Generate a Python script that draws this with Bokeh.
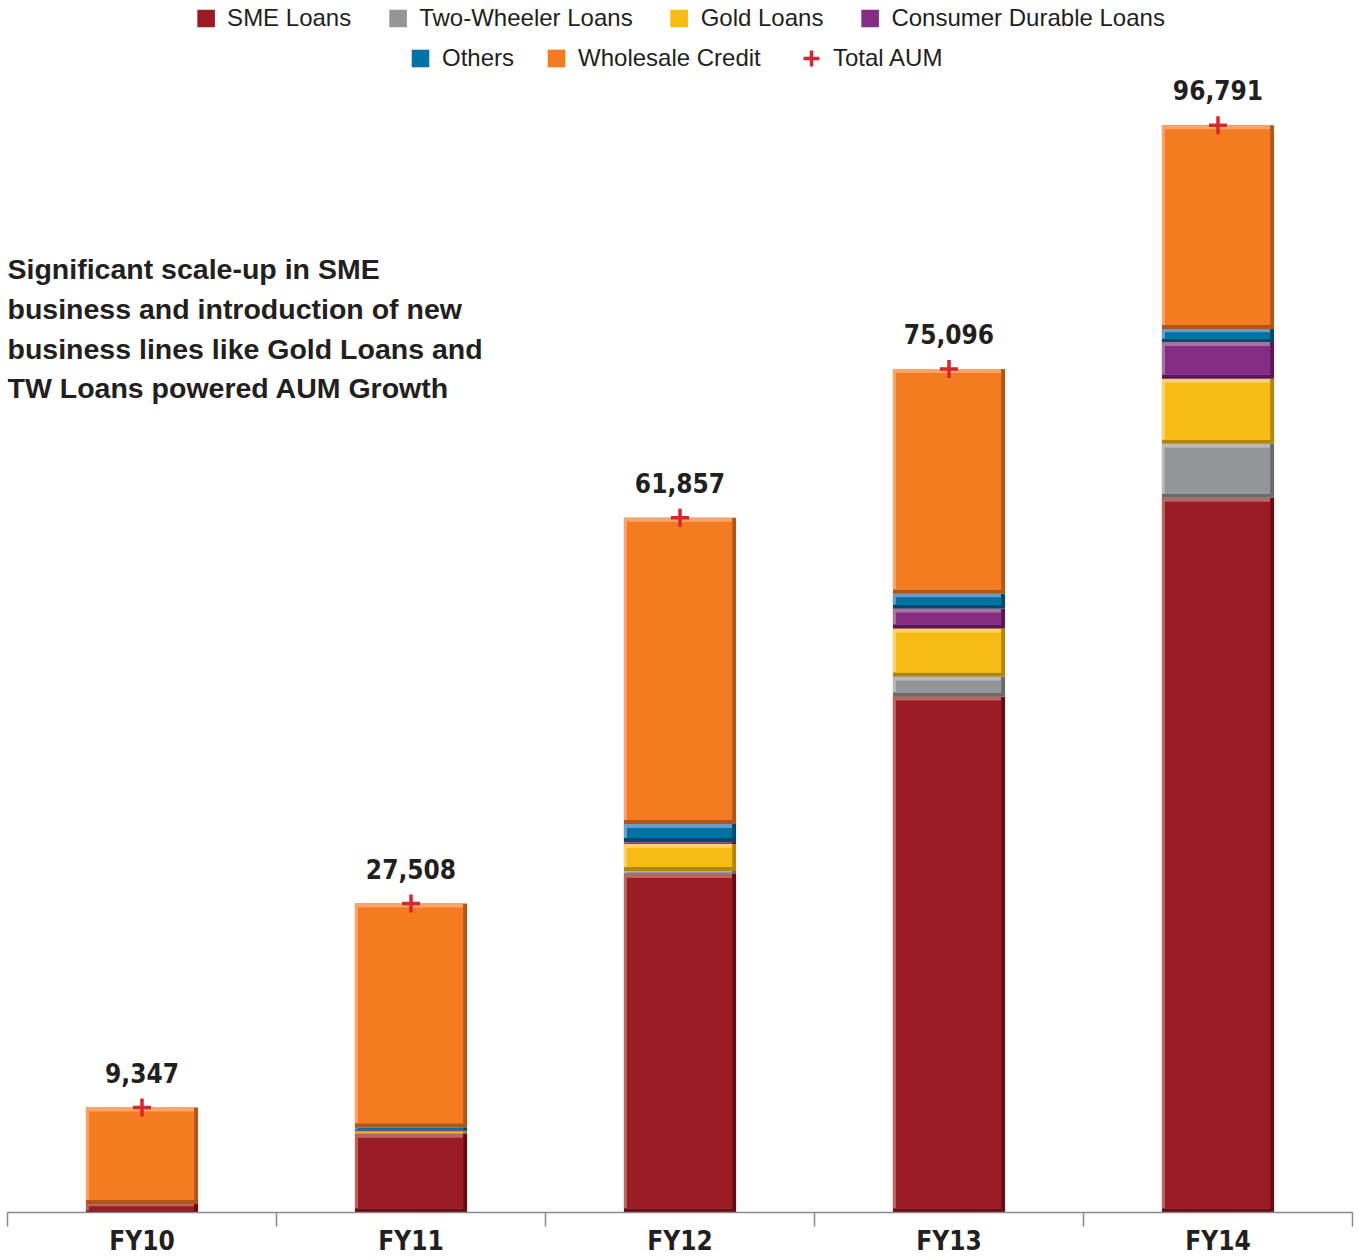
import numpy as np
from bokeh.plotting import figure
from bokeh.models import (ColumnDataSource, Range1d, FixedTicker, Legend, LegendItem, Label)
from bokeh.core.properties import value
from bokeh.embed import file_html
from bokeh.resources import INLINE

# ---- data (Rs. million) ----
categories = ["FY10", "FY11", "FY12", "FY13", "FY14"]
sme_loans = [750, 7000, 30130, 45950, 63640]
two_wheeler = [0, 80, 270, 1780, 4800]
gold_loans = [0, 150, 2400, 4270, 5780]
consumer_durable = [0, 100, 180, 1780, 3290]
others = [0, 250, 1600, 1330, 1155]
wholesale_credit = [8597, 19928, 27277, 19986, 18126]
total_aum = [9347, 27508, 61857, 75096, 96791]

series_names = ["SME Loans", "Two-Wheeler Loans", "Gold Loans",
                "Consumer Durable Loans", "Others", "Wholesale Credit"]
series_values = [sme_loans, two_wheeler, gold_loans, consumer_durable, others, wholesale_credit]
fills = ["#9b1b24", "#939598", "#f7bb16", "#852d84", "#0072a3", "#f47b20"]
lights = ["#b8675f", "#b8b9bb", "#fdd16c", "#a9739f", "#6c9bc6", "#f9a56a"]
darks = ["#680b12", "#6a6b6e", "#b3860c", "#581857", "#004a6c", "#b0561b"]

W, H = 1359, 1258
BORDER_L, BORDER_R, BORDER_B = 7, 7, 44
Y_END = 107905
n = len(categories)
xs = np.arange(n) + 0.5
bar_w = 0.417

p = figure(width=W, height=H, output_backend="svg", toolbar_location=None,
           x_range=Range1d(0, n), y_range=Range1d(0, Y_END))
p.min_border_left = BORDER_L
p.min_border_right = BORDER_R
p.min_border_top = 0
p.min_border_bottom = BORDER_B
p.outline_line_color = None
p.grid.visible = False
p.yaxis.visible = False

# bevel sizes (screen px -> data units)
frame_w = W - BORDER_L - BORDER_R
frame_h = H - BORDER_B
dy = 4 * Y_END / frame_h
dxl = 3 * n / frame_w
dxr = 4 * n / frame_w

vals = np.array(series_values, dtype=float)
tops = np.cumsum(vals, axis=0)
bottoms = tops - vals

main_renderers = []
for i in range(len(series_names)):
    b, t = bottoms[i], tops[i]
    h = t - b
    d = np.minimum(dy, h * 0.25)
    src = ColumnDataSource(dict(
        x=xs, b=b, t=t,
        lb=b + d, lx=xs - dxr / 2, lw=np.full(n, bar_w - dxr),
        mb=b + d, mt=np.maximum(t - d, b + d),
        mx=xs + (dxl - dxr) / 2, mw=np.full(n, bar_w - dxl - dxr),
    ))
    # dark base (bottom / right bevel)
    p.vbar(x="x", width=bar_w, bottom="b", top="t", source=src,
           fill_color=darks[i], line_color=None)
    # light overlay (top / left bevel)
    p.vbar(x="lx", width="lw", bottom="lb", top="t", source=src,
           fill_color=lights[i], line_color=None)
    # main face
    r = p.vbar(x="mx", width="mw", bottom="mb", top="mt", source=src,
               fill_color=fills[i], line_color=None)
    main_renderers.append(r)

tot_src = ColumnDataSource(dict(x=xs, total=total_aum,
                                label=[f"{v:,}" for v in total_aum]))
cross = p.scatter(x="x", y="total", source=tot_src, marker="cross", size=18,
                  line_width=3.5, line_color="#d7262d")

p.text(x="x", y="total", text="label", source=tot_src,
       text_font=value("DejaVu Sans Condensed"), text_font_style="bold",
       text_font_size="26px", text_color="#231f20", text_align="center",
       text_baseline="alphabetic", y_offset=-35)

# x axis: labels at centres, tick marks at category boundaries
ax = p.xaxis[0]
ax.ticker = FixedTicker(ticks=list(xs), minor_ticks=list(range(n + 1)))
ax.major_label_overrides = {float(x): c for x, c in zip(xs, categories)}
ax.major_tick_out = 0
ax.major_tick_in = 0
ax.minor_tick_out = 14
ax.minor_tick_in = 0
ax.minor_tick_line_color = "#8a8a8a"
ax.minor_tick_line_width = 1.5
ax.axis_line_color = "#8a8a8a"
ax.axis_line_width = 1.5
ax.major_label_standoff = -1
ax.major_label_text_font = "DejaVu Sans Condensed"
ax.major_label_text_font_style = "bold"
ax.major_label_text_font_size = "26px"
ax.major_label_text_color = "#231f20"

common = dict(orientation="horizontal", padding=0, border_line_color=None,
              background_fill_alpha=0, label_text_font="Liberation Sans",
              label_text_font_size="24px", label_text_color="#231f20",
              label_height=22)

leg1 = Legend(items=[LegendItem(label=series_names[i], renderers=[main_renderers[i]])
                     for i in range(4)],
              location="top_center", margin=4, spacing=35, label_standoff=11,
              glyph_width=22, glyph_height=22, **common)
leg2 = Legend(items=[LegendItem(label=series_names[i], renderers=[main_renderers[i]])
                     for i in (4, 5)],
              location=(402, frame_h - 74), margin=0, spacing=31, label_standoff=11,
              glyph_width=22, glyph_height=22, **common)
leg3 = Legend(items=[LegendItem(label="Total AUM", renderers=[cross])],
              location=(784, frame_h - 80), margin=0, spacing=0, label_standoff=2,
              glyph_width=40, glyph_height=40, **common)
for lg in (leg1, leg2, leg3):
    p.add_layout(lg, "center")

note = Label(x=0, y=85400,
             text="Significant scale-up in SME\nbusiness and introduction of new\n"
                  "business lines like Gold Loans and\nTW Loans powered AUM Growth",
             text_font="Liberation Sans", text_font_style="bold",
             text_font_size="28.5px", text_color="#231f20", text_baseline="top",
             text_line_height=1.24)
p.add_layout(note)

open("out.html", "w").write(file_html(p, INLINE))
